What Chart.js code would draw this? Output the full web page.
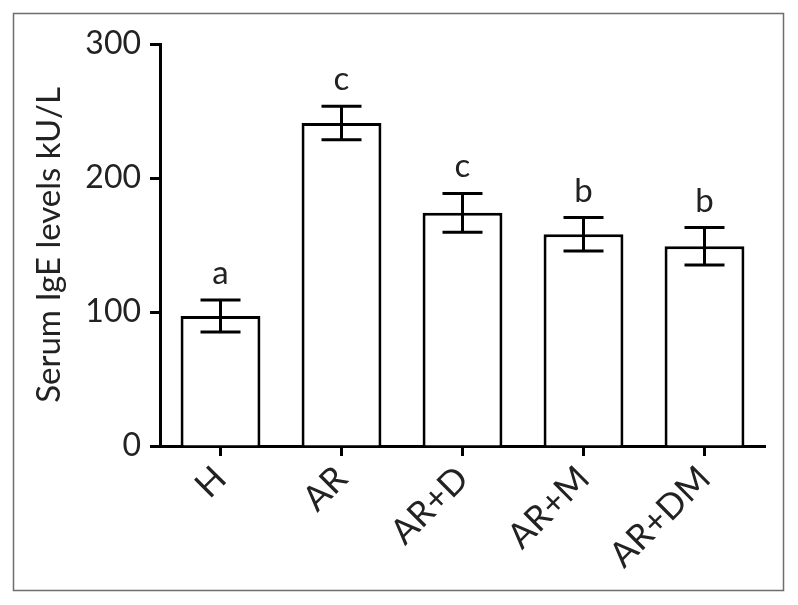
<!DOCTYPE html>
<html>
<head>
<meta charset="utf-8">
<script src="https://cdn.jsdelivr.net/npm/chart.js@4"></script>
<style>
    html, body { margin: 0; padding: 0; background: #fff; }
    #wrap { width: 798px; height: 605px; }
</style>
</head>
<body>
<div id="wrap"><canvas id="igeChart" width="798" height="605"></canvas></div>
<script>
// groups and values
var groups = ['H', 'AR', 'AR+D', 'AR+M', 'AR+DM'];
var igeMean = [97, 241, 174, 158, 149];
var igeSem = [12, 12.5, 14.5, 12.5, 14];
var sigLetters = ['a', 'c', 'c', 'b', 'b'];
var yTicks = [0, 100, 200, 300];

var FONT = 'Lato, "Open Sans", sans-serif';

// outer frame around the figure
var framePlugin = {
    id: 'frame',
    beforeDraw: function (chart) {
        var ctx = chart.ctx;
        ctx.save();
        ctx.strokeStyle = '#6e6e6e';
        ctx.lineWidth = 1.5;
        ctx.strokeRect(13.5, 13.5, 770, 577);
        ctx.restore();
    }
};

// error bars + letters above each bar
var errorPlugin = {
    id: 'errorBars',
    afterDatasetsDraw: function (chart) {
        var ctx = chart.ctx;
        var y = chart.scales.y;
        var meta = chart.getDatasetMeta(0);
        ctx.save();
        ctx.strokeStyle = '#000';
        ctx.lineWidth = 3;
        ctx.lineCap = 'butt';
        meta.data.forEach(function (bar, i) {
            var top = y.getPixelForValue(igeMean[i] + igeSem[i]);
            var bot = y.getPixelForValue(igeMean[i] - igeSem[i]);
            var x = bar.x;
            ctx.beginPath();
            ctx.moveTo(x, top);
            ctx.lineTo(x, bot);
            ctx.moveTo(x - 20, top);
            ctx.lineTo(x + 20, top);
            ctx.moveTo(x - 20, bot);
            ctx.lineTo(x + 20, bot);
            ctx.stroke();

            ctx.fillStyle = '#222';
            ctx.font = '33px ' + FONT;
            ctx.textAlign = 'center';
            ctx.textBaseline = 'alphabetic';
            ctx.fillText(sigLetters[i], x, top - 16);
        });
        ctx.restore();
    }
};

new Chart(document.getElementById('igeChart').getContext('2d'), {
    type: 'bar',
    data: {
        labels: groups,
        datasets: [
            {
                label: 'Serum IgE',
                data: igeMean,
                backgroundColor: '#fff',
                borderColor: '#000',
                borderWidth: 3,
                borderSkipped: 'bottom',
                categoryPercentage: 1,
                barPercentage: 0.66
            }
        ]
    },
    options: {
        responsive: false,
        animation: false,
        layout: {
            padding: { top: 44, right: 33, bottom: 0, left: 0 }
        },
        plugins: {
            legend: { display: false },
            tooltip: { enabled: false }
        },
        scales: {
            x: {
                afterFit: function (scale) { scale.height = 159; },
                grid: {
                    display: true,
                    drawOnChartArea: false,
                    drawTicks: true,
                    offset: false,
                    tickLength: 10,
                    tickWidth: 3,
                    tickColor: '#000'
                },
                border: { display: true, color: '#000', width: 3 },
                ticks: {
                    color: '#222',
                    font: { family: FONT, size: 35 },
                    maxRotation: 45,
                    minRotation: 45,
                    padding: 2
                }
            },
            y: {
                min: 0,
                max: 300,
                afterFit: function (scale) { scale.width = 160; },
                afterBuildTicks: function (scale) {
                    scale.ticks = yTicks.map(function (v) { return { value: v }; });
                },
                grid: {
                    display: true,
                    drawOnChartArea: false,
                    drawTicks: true,
                    tickLength: 10,
                    tickWidth: 3,
                    tickColor: '#000'
                },
                border: { display: true, color: '#000', width: 3 },
                ticks: {
                    color: '#222',
                    font: { family: FONT, size: 32 },
                    padding: 9
                },
                title: {
                    display: true,
                    text: 'Serum IgE levels kU/L',
                    color: '#222',
                    font: { family: FONT, size: 33 },
                    padding: { top: 30, bottom: 0 }
                }
            }
        }
    },
    plugins: [framePlugin, errorPlugin]
});
</script>
</body>
</html>
